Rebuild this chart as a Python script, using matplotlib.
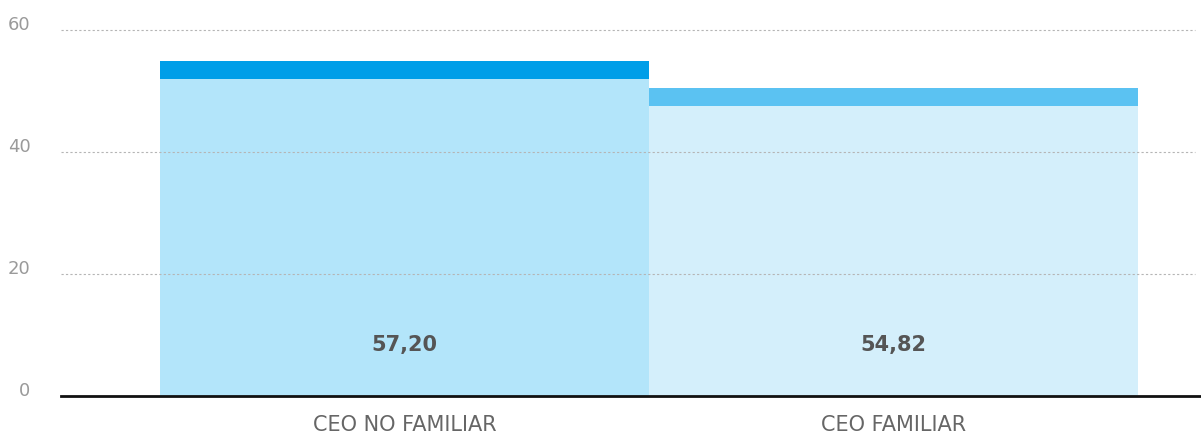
import matplotlib.pyplot as plt
from matplotlib import font_manager
from matplotlib.transforms import ScaledTranslation

# data
categories = ["CEO NO FAMILIAR", "CEO FAMILIAR"]
value_labels = ["57,20", "54,82"]
body = [52.0, 47.5]
cap = [2.9, 3.0]
yticks = [0, 20, 40, 60]

body_colors = ["#B3E5FA", "#D4EFFB"]
cap_colors = ["#009EE8", "#5BC2F2"]

names = {f.name for f in font_manager.fontManager.ttflist}
narrow = "Liberation Sans Narrow" if "Liberation Sans Narrow" in names else "DejaVu Sans"
plt.rcParams['font.family'] = [narrow, 'DejaVu Sans']

fig = plt.figure(figsize=(12.01, 4.37), dpi=100)
ax = fig.add_axes([61 / 1201, 41 / 437, 1140 / 1201, (396 - 17.8) / 437])

x = list(range(len(categories)))
ax.bar(x, body, width=1.0, color=body_colors, zorder=2)
ax.bar(x, cap, width=1.0, bottom=body, color=cap_colors, zorder=2)

for xi, lab in zip(x, value_labels):
    ax.text(xi, 8.4, lab, ha='center', va='center', fontsize=15,
            fontweight='bold', color='#555555', zorder=3)

ax.set_xlim(-0.7025, 1.629)
ax.set_ylim(0, 62)

ax.set_yticks(yticks)
ax.set_yticklabels([str(t) for t in yticks], fontsize=13, color='#9a9a9a')
ax.tick_params(axis='y', length=0, pad=22)
for lab in ax.get_yticklabels():
    lab.set_transform(lab.get_transform() + ScaledTranslation(0, 7 / 100, fig.dpi_scale_trans))

ax.set_xticks(x)
ax.set_xticklabels(categories, fontsize=15, color='#666666')
ax.tick_params(axis='x', length=0, pad=14)

# dotted gridlines drawn over the bars, stopping a bit short of the right edge
for t in yticks[1:]:
    ax.plot([-0.7025, 1.617], [t, t], linestyle=(0, (2, 2)), color='#b5b5b5',
            linewidth=0.8, zorder=2.5)

for s in ['top', 'right', 'left']:
    ax.spines[s].set_visible(False)
ax.spines['bottom'].set_color('#111111')
ax.spines['bottom'].set_linewidth(2)
ax.spines['bottom'].set_zorder(4)

fig.savefig("out.png", dpi=100)
